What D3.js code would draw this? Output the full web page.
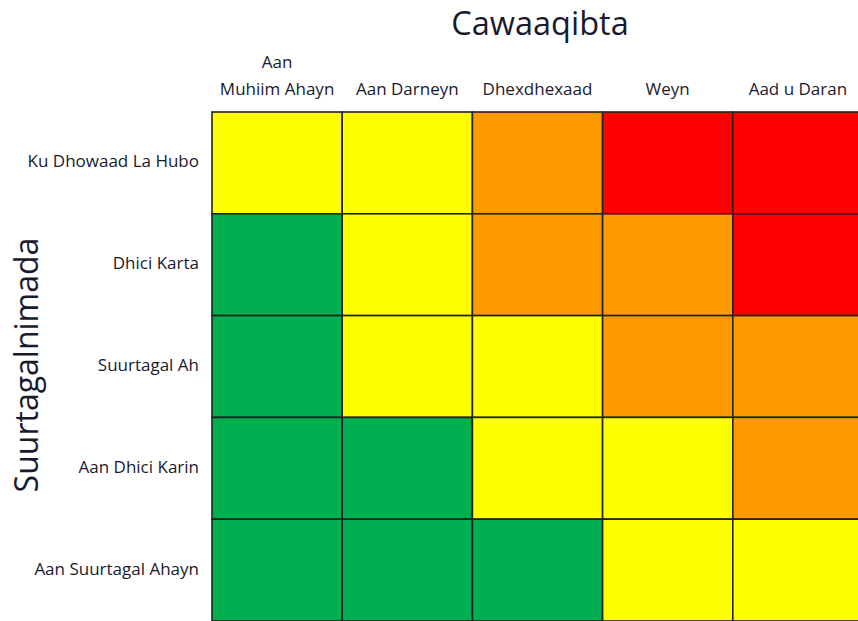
<!DOCTYPE html>
<html>
<head>
<meta charset="utf-8">
<script src="https://cdn.jsdelivr.net/npm/d3@7"></script>
<style>
  body { margin: 0; background: #fff; }
  text { font-family: "Open Sans", "Lato", sans-serif; fill: #1a1a2e; }
</style>
</head>
<body>
<div id="chart"></div>
<script>
// Cawaaqibta (columns) and Suurtagalnimada (rows)
const columns = ["Aan Muhiim Ahayn", "Aan Darneyn", "Dhexdhexaad", "Weyn", "Aad u Daran"];
const columnLines = [["Aan", "Muhiim Ahayn"], ["Aan Darneyn"], ["Dhexdhexaad"], ["Weyn"], ["Aad u Daran"]];
const rows = ["Ku Dhowaad La Hubo", "Dhici Karta", "Suurtagal Ah", "Aan Dhici Karin", "Aan Suurtagal Ahayn"];

// risk level for each cell, row by row (0 = green, 1 = yellow, 2 = orange, 3 = red)
const levels = [
  [1, 1, 2, 3, 3],
  [0, 1, 2, 2, 3],
  [0, 1, 1, 2, 2],
  [0, 0, 1, 1, 2],
  [0, 0, 0, 1, 1]
];
const levelColors = ["#00b050", "#ffff00", "#ff9900", "#ff0000"];

const width = 858, height = 621;

const svg = d3.select("#chart")
  .append("svg")
  .attr("width", width)
  .attr("height", height);

const x = d3.scaleBand().domain(columns).range([212, 863]);
const y = d3.scaleBand().domain(rows).range([112, 621]);
const color = d3.scaleOrdinal().domain([0, 1, 2, 3]).range(levelColors);

const cells = [];
levels.forEach((r, i) => r.forEach((v, j) => cells.push({ row: rows[i], col: columns[j], v: v })));

svg.selectAll("rect.cell")
  .data(cells)
  .join("rect")
  .attr("class", "cell")
  .attr("x", d => x(d.col))
  .attr("y", d => y(d.row))
  .attr("width", x.bandwidth())
  .attr("height", y.bandwidth())
  .attr("fill", d => color(d.v))
  .attr("stroke", "#222")
  .attr("stroke-width", 1.6);

// column labels
const colLabels = svg.selectAll("text.col")
  .data(columns)
  .join("text")
  .attr("class", "col")
  .attr("text-anchor", "middle")
  .style("font-size", "17px");
colLabels.each(function (d, i) {
  const lines = columnLines[i];
  const t = d3.select(this);
  lines.forEach((l, k) => {
    t.append("tspan")
      .attr("x", x(d) + x.bandwidth() / 2)
      .attr("y", 95 - (lines.length - 1 - k) * 27)
      .text(l);
  });
});

// row labels
svg.selectAll("text.row")
  .data(rows)
  .join("text")
  .attr("class", "row")
  .attr("x", 199)
  .attr("y", d => y(d) + y.bandwidth() / 2)
  .attr("text-anchor", "end")
  .attr("dominant-baseline", "middle")
  .style("font-size", "17px")
  .text(d => d);

// titles
svg.append("text")
  .attr("x", 540)
  .attr("y", 35)
  .attr("text-anchor", "middle")
  .style("font-size", "32.5px")
  .text("Cawaaqibta");

svg.append("text")
  .attr("transform", "translate(38, 365) rotate(-90)")
  .attr("text-anchor", "middle")
  .style("font-size", "32px")
  .text("Suurtagalnimada");
</script>
</body>
</html>
